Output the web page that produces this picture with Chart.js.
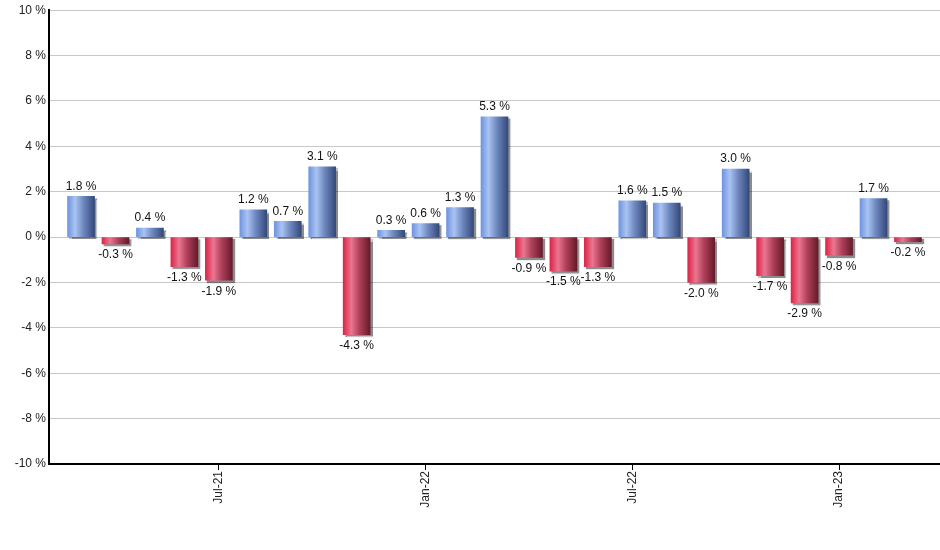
<!DOCTYPE html>
<html lang="en">
<head>
  <meta charset="UTF-8" />
  <title>Monthly Returns</title>
  <script src="https://cdn.jsdelivr.net/npm/chart.js"></script>
  <style>
    html, body {
      margin: 0;
      padding: 0;
      background: #fff;
    }
    .chart-box {
      width: 940px;
      height: 550px;
      position: relative;
    }
  </style>
</head>
<body>

  <div class="chart-box">
    <canvas id="returnsChart"></canvas>
  </div>

  <script>
    const months = [
      "Mar-21", "Apr-21", "May-21", "Jun-21", "Jul-21", "Aug-21", "Sep-21",
      "Oct-21", "Nov-21", "Dec-21", "Jan-22", "Feb-22", "Mar-22", "Apr-22",
      "May-22", "Jun-22", "Jul-22", "Aug-22", "Sep-22", "Oct-22", "Nov-22",
      "Dec-22", "Jan-23", "Feb-23", "Mar-23"
    ];

    const returns = [
      1.8, -0.3, 0.4, -1.3, -1.9, 1.2, 0.7, 3.1, -4.3, 0.3, 0.6, 1.3, 5.3,
      -0.9, -1.5, -1.3, 1.6, 1.5, -2.0, 3.0, -1.7, -2.9, -0.8, 1.7, -0.2
    ];

    // only these months get a label on the x axis
    const tickMonths = ["Jul-21", "Jan-22", "Jul-22", "Jan-23"];

    const yTicks = [-10, -8, -6, -4, -2, 0, 2, 4, 6, 8, 10];

    const BAR_W = 27;

    function barGradient(ctx) {
      const chart = ctx.chart;
      const v = returns[ctx.dataIndex];
      const pos = v >= 0;
      if (!chart.chartArea || !chart.scales.x) return pos ? '#7a9ce0' : '#d8304f';
      const cx = chart.scales.x.getPixelForValue(ctx.dataIndex);
      const x0 = cx - BAR_W / 2, x1 = cx + BAR_W / 2;
      const g = chart.ctx.createLinearGradient(x0, 0, x1, 0);
      if (pos) {
        g.addColorStop(0, '#6f94df');
        g.addColorStop(0.28, '#a9c3f2');
        g.addColorStop(0.6, '#6c86bd');
        g.addColorStop(1, '#34497a');
      } else {
        g.addColorStop(0, '#dc2448');
        g.addColorStop(0.3, '#ea7690');
        g.addColorStop(0.6, '#b0405a');
        g.addColorStop(1, '#661a2a');
      }
      return g;
    }

    // little grey drop shadow under the bars
    const barShadow = {
      id: 'barShadow',
      beforeDatasetsDraw(chart) {
        const c = chart.ctx;
        c.save();
        c.shadowColor = 'rgba(0,0,0,0.45)';
        c.shadowOffsetX = 2;
        c.shadowOffsetY = 2;
        c.shadowBlur = 1;
      },
      afterDatasetsDraw(chart) {
        chart.ctx.restore();
      }
    };

    // value labels above / below each bar
    const valueLabels = {
      id: 'valueLabels',
      afterDatasetsDraw(chart) {
        const c = chart.ctx;
        const meta = chart.getDatasetMeta(0);
        c.save();
        c.font = '12px "Liberation Sans", Arial, sans-serif';
        c.fillStyle = '#111';
        c.textAlign = 'center';
        meta.data.forEach((bar, i) => {
          const v = returns[i];
          const txt = v.toFixed(1) + ' %';
          if (v >= 0) {
            c.textBaseline = 'bottom';
            c.fillText(txt, bar.x, bar.y - 4);
          } else {
            c.textBaseline = 'top';
            c.fillText(txt, bar.x, bar.y + 5);
          }
        });
        c.restore();
      }
    };

    new Chart(document.getElementById('returnsChart'), {
      type: 'bar',
      data: {
        datasets: [{
          data: returns.map((v, i) => ({ x: i, y: v })),
          backgroundColor: barGradient,
          borderWidth: 0,
          barThickness: BAR_W
        }]
      },
      options: {
        responsive: true,
        maintainAspectRatio: false,
        animation: false,
        layout: { padding: { top: 9, right: 0, left: 0, bottom: 0 } },
        plugins: {
          legend: { display: false },
          tooltip: { enabled: false }
        },
        scales: {
          x: {
            type: 'linear',
            offset: false,
            min: -0.93,
            max: 24.93,
            afterBuildTicks: axis => {
              axis.ticks = tickMonths.map(m => ({ value: months.indexOf(m) }));
            },
            afterFit: axis => { axis.height = 86; },
            ticks: {
              autoSkip: false,
              minRotation: 90,
              maxRotation: 90,
              color: '#222',
              padding: 1,
              font: { family: '"Liberation Sans", Arial, sans-serif', size: 12 },
              callback: v => months[v]
            },
            grid: {
              display: true,
              offset: false,
              drawOnChartArea: false,
              drawTicks: true,
              tickLength: 6,
              color: '#000'
            },
            border: { display: true, color: '#000', width: 2 }
          },
          y: {
            min: -10,
            max: 10,
            afterBuildTicks: axis => {
              axis.ticks = yTicks.map(v => ({ value: v }));
            },
            afterFit: axis => { axis.width = 49; },
            ticks: {
              color: '#222',
              padding: 3,
              font: { family: '"Liberation Sans", Arial, sans-serif', size: 12 },
              callback: v => v + ' %'
            },
            grid: {
              color: '#c8c8c8',
              lineWidth: 1,
              drawTicks: false
            },
            border: { display: true, color: '#000', width: 2 }
          }
        }
      },
      plugins: [barShadow, valueLabels]
    });
  </script>

</body>
</html>
